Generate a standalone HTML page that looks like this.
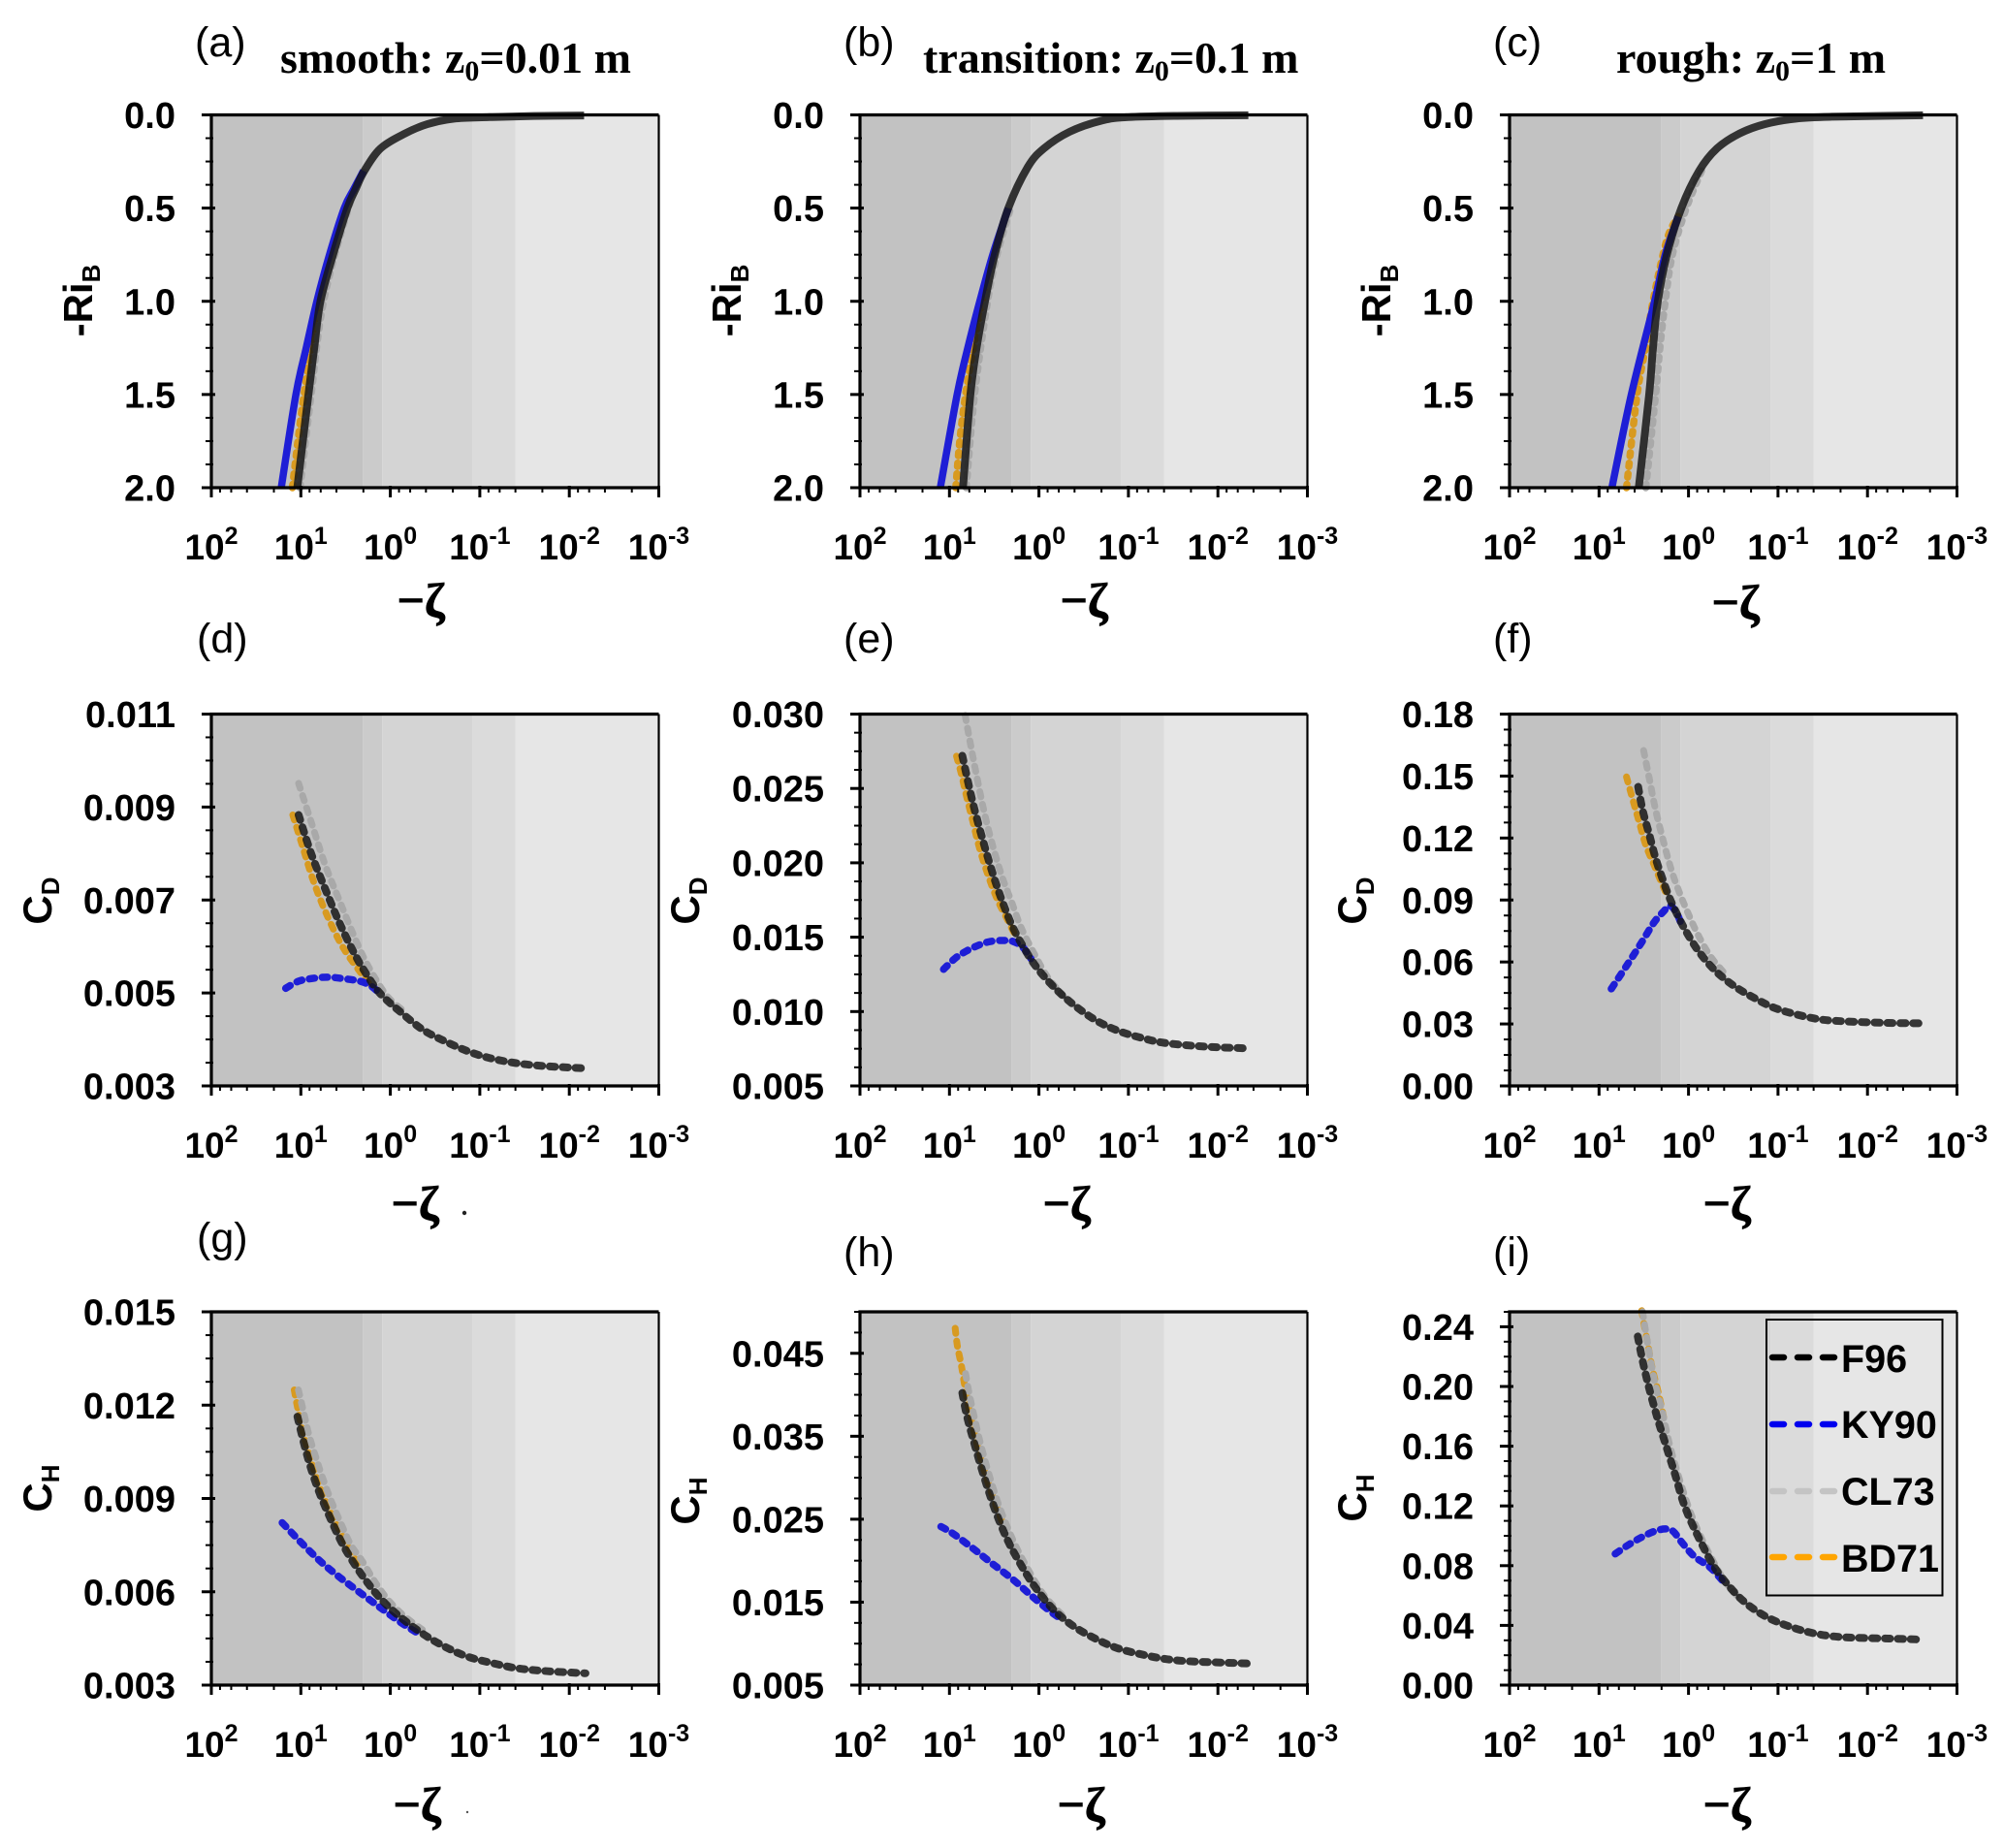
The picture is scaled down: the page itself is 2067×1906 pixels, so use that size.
<!DOCTYPE html>
<html lang="en">
<head>
<meta charset="utf-8">
<title>Drag and heat transfer coefficients versus stability</title>
<style>
html,body{margin:0;padding:0;background:#fff;}
svg{display:block;}
text{fill:#000;}
.sans{font-family:"Liberation Sans",sans-serif;}
.tick{font-family:"Liberation Sans",sans-serif;font-weight:bold;font-size:38px;}
.xt{font-family:"Liberation Sans",sans-serif;font-weight:bold;font-size:37px;}
.plabel{font-family:"Liberation Sans",sans-serif;font-size:43px;}
.title{font-family:"Liberation Serif",serif;font-weight:bold;font-size:46px;}
.ytitle{font-family:"Liberation Sans",sans-serif;font-weight:bold;font-size:42px;}
.xtitle{font-family:"Liberation Serif",serif;font-weight:bold;font-size:50px;stroke:#000;stroke-width:0.8px;}
.leg{font-family:"Liberation Sans",sans-serif;font-weight:bold;font-size:39.5px;}
</style>
</head>
<body>
<svg id="fig" xmlns="http://www.w3.org/2000/svg" width="2067" height="1906" viewBox="0 0 2067 1906">
  <rect x="0" y="0" width="2067" height="1906" fill="#fff"/>
  <g id="panels"></g>

  <g>
    <text class="plabel" x="201" y="58">(a)</text>
    <text class="plabel" x="870" y="58">(b)</text>
    <text class="plabel" x="1540" y="58">(c)</text>
    <text class="plabel" x="203" y="673">(d)</text>
    <text class="plabel" x="870" y="673">(e)</text>
    <text class="plabel" x="1540" y="673">(f)</text>
    <text class="plabel" x="203" y="1291">(g)</text>
    <text class="plabel" x="870" y="1306">(h)</text>
    <text class="plabel" x="1540" y="1306">(i)</text>
  </g>

  <g>
    <text class="title" x="289" y="75">smooth: z<tspan font-size="30" dy="8">0</tspan><tspan dy="-8">=0.01 m</tspan></text>
    <text class="title" x="952" y="75">transition: z<tspan font-size="30" dy="8">0</tspan><tspan dy="-8">=0.1 m</tspan></text>
    <text class="title" x="1667" y="75">rough: z<tspan font-size="30" dy="8">0</tspan><tspan dy="-8">=1 m</tspan></text>
  </g>

  <g>
    <text class="ytitle" transform="translate(95,310) rotate(-90)" text-anchor="middle">-Ri<tspan font-size="26" dy="8">B</tspan></text>
    <text class="ytitle" transform="translate(764,310) rotate(-90)" text-anchor="middle">-Ri<tspan font-size="26" dy="8">B</tspan></text>
    <text class="ytitle" transform="translate(1434,310) rotate(-90)" text-anchor="middle">-Ri<tspan font-size="26" dy="8">B</tspan></text>
    <text class="ytitle" transform="translate(53,929) rotate(-90)" text-anchor="middle">C<tspan font-size="26" dy="8">D</tspan></text>
    <text class="ytitle" transform="translate(721,929) rotate(-90)" text-anchor="middle">C<tspan font-size="26" dy="8">D</tspan></text>
    <text class="ytitle" transform="translate(1409,929) rotate(-90)" text-anchor="middle">C<tspan font-size="26" dy="8">D</tspan></text>
    <text class="ytitle" transform="translate(53,1535) rotate(-90)" text-anchor="middle">C<tspan font-size="26" dy="8">H</tspan></text>
    <text class="ytitle" transform="translate(721,1548) rotate(-90)" text-anchor="middle">C<tspan font-size="26" dy="8">H</tspan></text>
    <text class="ytitle" transform="translate(1409,1545) rotate(-90)" text-anchor="middle">C<tspan font-size="26" dy="8">H</tspan></text>
  </g>

  <g>
    <text class="xtitle" x="434" y="636" text-anchor="middle">−ζ</text>
    <text class="xtitle" x="1118" y="636" text-anchor="middle">−ζ</text>
    <text class="xtitle" x="1790" y="638" text-anchor="middle">−ζ</text>
    <text class="xtitle" x="428" y="1258" text-anchor="middle">−ζ</text>
    <text class="xtitle" x="1100" y="1258" text-anchor="middle">−ζ</text>
    <text class="xtitle" x="1781" y="1258" text-anchor="middle">−ζ</text>
    <text class="xtitle" x="430" y="1878" text-anchor="middle">−ζ</text>
    <text class="xtitle" x="1115" y="1878" text-anchor="middle">−ζ</text>
    <text class="xtitle" x="1781" y="1878" text-anchor="middle">−ζ</text>
    <circle cx="479" cy="1251" r="2.2" fill="#222"/>
    <circle cx="482" cy="1869" r="1.2" fill="#555"/>
  </g>

  <g>
    <rect x="1822" y="1361" width="181.5" height="284.5" fill="none" stroke="#000" stroke-width="2"/>
    <g>
      <line x1="1828" x2="1892" y1="1400" y2="1400" stroke="#000" stroke-width="6.5" stroke-linecap="round" stroke-dasharray="12 14"/>
      <text class="leg" x="1899" y="1415">F96</text>
    </g>
    <g>
      <line x1="1828" x2="1892" y1="1469" y2="1469" stroke="#0000ee" stroke-width="6.5" stroke-linecap="round" stroke-dasharray="12 14"/>
      <text class="leg" x="1899" y="1483">KY90</text>
    </g>
    <g>
      <line x1="1828" x2="1892" y1="1538" y2="1538" stroke="#c4c4c4" stroke-width="6.5" stroke-linecap="round" stroke-dasharray="12 14"/>
      <text class="leg" x="1899" y="1552">CL73</text>
    </g>
    <g>
      <line x1="1828" x2="1892" y1="1606" y2="1606" stroke="#ffa500" stroke-width="6.5" stroke-linecap="round" stroke-dasharray="12 14"/>
      <text class="leg" x="1899" y="1621">BD71</text>
    </g>
  </g>
</svg>

<script>
/* x values are log10(-zeta), y values are the quantity on the panel's y axis */
const xDecades = [2, 1, 0, -1, -2, -3];
const xMinorMantissas = [2, 4, 6, 8];
const stabilityBandEdges = [0.306, 0.09, -0.915, -1.4];

const yTicksRi = [0, 0.5, 1, 1.5, 2];
const yLabelsRi = ['0.0', '0.5', '1.0', '1.5', '2.0'];
const yTicksD = [0.003, 0.005, 0.007, 0.009, 0.011];
const yLabelsD = ['0.003', '0.005', '0.007', '0.009', '0.011'];
const yTicksE = [0.005, 0.01, 0.015, 0.02, 0.025, 0.03];
const yLabelsE = ['0.005', '0.010', '0.015', '0.020', '0.025', '0.030'];
const yTicksF = [0, 0.03, 0.06, 0.09, 0.12, 0.15, 0.18];
const yLabelsF = ['0.00', '0.03', '0.06', '0.09', '0.12', '0.15', '0.18'];
const yTicksG = [0.003, 0.006, 0.009, 0.012, 0.015];
const yLabelsG = ['0.003', '0.006', '0.009', '0.012', '0.015'];
const yTicksH = [0.005, 0.015, 0.025, 0.035, 0.045];
const yLabelsH = ['0.005', '0.015', '0.025', '0.035', '0.045'];
const yTicksI = [0, 0.04, 0.08, 0.12, 0.16, 0.2, 0.24];
const yLabelsI = ['0.00', '0.04', '0.08', '0.12', '0.16', '0.20', '0.24'];

/* panel a */
const aF96X = [1.04, 0.915, 0.85, 0.781, 0.64, 0.48, 0.39, 0.29, 0.109, -0.164, -0.413, -0.711, -1.109, -1.6, -2.165];
const aF96Y = [2, 1.5, 1.25, 1, 0.75, 0.5, 0.4, 0.3, 0.18, 0.1, 0.05, 0.02, 0.012, 0.006, 0.003];
const aKY90X = [1.219, 1.055, 0.94, 0.821, 0.68, 0.515, 0.41, 0.3];
const aKY90Y = [2, 1.5, 1.25, 1, 0.75, 0.5, 0.4, 0.3];
const aCL73X = [1.01, 0.885, 0.746, 0.468, 0.29];
const aCL73Y = [2, 1.5, 1, 0.5, 0.3];
const aBD71X = [1.095, 0.965, 0.791, 0.647, 0.493];
const aBD71Y = [2, 1.5, 1, 0.75, 0.5];

/* panel b */
const bF96X = [0.849, 0.766, 0.697, 0.603, 0.494, 0.342, 0.125, -0.056, -0.345, -0.707, -0.997, -1.54, -2.34];
const bF96Y = [2, 1.5, 1.25, 1, 0.75, 0.5, 0.28, 0.18, 0.09, 0.03, 0.012, 0.005, 0.002];
const bKY90X = [1.102, 0.914, 0.795, 0.661, 0.516, 0.342];
const bKY90Y = [2, 1.5, 1.25, 1, 0.75, 0.5];
const bCL73X = [0.813, 0.719, 0.574, 0.469, 0.317];
const bCL73Y = [2, 1.5, 1, 0.75, 0.5];
const bBD71X = [0.929, 0.885, 0.82, 0.733, 0.632, 0.502, 0.342];
const bBD71Y = [2, 1.75, 1.5, 1.25, 1, 0.75, 0.5];

/* panel c */
const cF96X = [0.556, 0.44, 0.397, 0.343, 0.242, 0.08, -0.119, -0.318, -0.57, -0.85, -1.2, -1.6, -2.62];
const cF96Y = [2, 1.5, 1.25, 1, 0.75, 0.5, 0.3, 0.18, 0.1, 0.05, 0.02, 0.01, 0.002];
const cKY90X = [0.856, 0.639, 0.379, 0.26, 0.116];
const cKY90Y = [2, 1.5, 1, 0.75, 0.545];
const cCL73X = [0.477, 0.368, 0.32, 0.26, 0.18, 0.025, -0.173];
const cCL73Y = [2, 1.5, 1.25, 1, 0.75, 0.5, 0.27];
const cBD71X = [0.693, 0.574, 0.477, 0.397, 0.242, 0.116];
const cBD71Y = [2, 1.5, 1.24, 1, 0.67, 0.545];

/* panel d */
const dF96X = [1.025, 0.881, 0.707, 0.557, 0.383, 0.209, 0.085, -0.114, -0.363, -0.612, -0.861, -1.109, -1.408, -1.706, -2.154];
const dF96Y = [0.00883, 0.00798, 0.00714, 0.00646, 0.00578, 0.00523, 0.00493, 0.00459, 0.00421, 0.00396, 0.00375, 0.0036, 0.00349, 0.00343, 0.00338];
const dKY90X = [1.169, 1.03, 0.881, 0.707, 0.532, 0.333, 0.209, 0.109];
const dKY90Y = [0.0051, 0.00525, 0.00531, 0.00534, 0.00531, 0.00525, 0.00514, 0.00497];
const dCL73X = [1.025, 0.881, 0.731, 0.582, 0.383, 0.234, 0.035, -0.164];
const dCL73Y = [0.00951, 0.00866, 0.00777, 0.00705, 0.00612, 0.00553, 0.00493, 0.00459];
const dBD71X = [1.09, 0.98, 0.856, 0.707, 0.532, 0.333, 0.234];
const dBD71Y = [0.00883, 0.00815, 0.00739, 0.00667, 0.00599, 0.00544, 0.00519];

/* panel e */
const eF96X = [0.856, 0.733, 0.578, 0.451, 0.306, 0.161, 0.009, -0.193, -0.4, -0.635, -0.888, -1.178, -1.395, -1.72, -2.01, -2.227, -2.34];
const eF96Y = [0.0272, 0.0239, 0.0205, 0.0181, 0.01585, 0.01421, 0.01284, 0.01149, 0.0104, 0.00942, 0.0087, 0.00818, 0.0079, 0.0077, 0.00759, 0.00755, 0.0075];
const eKY90X = [1.066, 0.929, 0.813, 0.686, 0.56, 0.415, 0.288, 0.18, 0.09];
const eKY90Y = [0.01284, 0.01362, 0.01406, 0.01443, 0.01469, 0.01478, 0.01471, 0.01432, 0.01356];
const eCL73X = [0.824, 0.777, 0.704, 0.614, 0.523, 0.415, 0.306, 0.198, 0.053, -0.092, -0.273];
const eCL73Y = [0.0299, 0.02837, 0.02608, 0.02347, 0.02129, 0.01911, 0.01737, 0.01563, 0.01389, 0.01236, 0.01105];
const eBD71X = [0.921, 0.867, 0.813, 0.74, 0.668, 0.578, 0.469, 0.36, 0.252];
const eBD71Y = [0.02717, 0.02597, 0.02456, 0.02281, 0.02107, 0.01933, 0.01759, 0.01628, 0.01497];

/* panel f */
const fF96X = [0.563, 0.513, 0.44, 0.368, 0.296, 0.224, 0.152, 0.043, -0.101, -0.282, -0.498, -0.751, -1.004, -1.401, -1.726, -2.231, -2.62];
const fF96Y = [0.1448, 0.1336, 0.1219, 0.1102, 0.1009, 0.0923, 0.0853, 0.076, 0.0659, 0.0565, 0.0487, 0.0422, 0.0371, 0.0327, 0.0313, 0.0305, 0.0303];
const fKY90X = [0.863, 0.693, 0.531, 0.386, 0.278, 0.206, 0.134, 0.08];
const fKY90Y = [0.047, 0.0581, 0.069, 0.0791, 0.0845, 0.0872, 0.0838, 0.0783];
const fCL73X = [0.502, 0.44, 0.368, 0.278, 0.188, 0.097, 0.007, -0.101, -0.245, -0.426];
const fCL73Y = [0.1624, 0.1492, 0.1336, 0.118, 0.104, 0.0931, 0.0838, 0.0736, 0.0627, 0.0534];
const fBD71X = [0.693, 0.621, 0.549, 0.477, 0.386, 0.296, 0.224];
const fBD71Y = [0.1496, 0.1383, 0.1274, 0.1165, 0.1071, 0.0978, 0.0908];

/* panel g */
const gF96X = [1.038, 0.958, 0.875, 0.785, 0.676, 0.55, 0.423, 0.26, 0.08, -0.119, -0.373, -0.626, -0.879, -1.168, -1.421, -1.747, -2.181];
const gF96Y = [0.01163, 0.01069, 0.00986, 0.00913, 0.0084, 0.00762, 0.00699, 0.00631, 0.00569, 0.00517, 0.00463, 0.00421, 0.0039, 0.00369, 0.00354, 0.00345, 0.00338];
const gKY90X = [1.208, 1.002, 0.785, 0.568, 0.351, 0.116, -0.119, -0.3];
const gKY90Y = [0.00822, 0.0076, 0.00699, 0.00647, 0.006, 0.0055, 0.00501, 0.00468];
const gCL73X = [1.027, 0.966, 0.911, 0.839, 0.767, 0.676, 0.568, 0.441, 0.315, 0.17, 0.025, -0.155, -0.373];
const gCL73Y = [0.01249, 0.01174, 0.01106, 0.01038, 0.00975, 0.00903, 0.0083, 0.00751, 0.00699, 0.00631, 0.00574, 0.00522, 0.00475];
const gBD71X = [1.074, 1.038, 0.984, 0.893, 0.785, 0.676, 0.532, 0.351];
const gBD71Y = [0.01249, 0.01194, 0.01121, 0.01028, 0.00934, 0.00861, 0.00777, 0.00684];

/* panel h */
const hF96X = [0.856, 0.806, 0.733, 0.65, 0.56, 0.451, 0.324, 0.161, 0.017, -0.164, -0.381, -0.635, -0.888, -1.178, -1.431, -1.72, -2.227, -2.34];
const hF96Y = [0.04022, 0.03749, 0.03456, 0.03144, 0.02832, 0.02501, 0.02189, 0.01877, 0.01643, 0.01409, 0.01214, 0.01058, 0.00941, 0.00863, 0.00812, 0.00785, 0.00765, 0.0076];
const hKY90X = [1.095, 0.958, 0.74, 0.523, 0.288, 0.071, -0.128, -0.25];
const hKY90Y = [0.02411, 0.02325, 0.0215, 0.01966, 0.01771, 0.01565, 0.01389, 0.01295];
const hCL73X = [0.82, 0.777, 0.722, 0.65, 0.56, 0.451, 0.306, 0.143, -0.056, -0.273];
const hCL73Y = [0.04256, 0.04002, 0.03729, 0.03398, 0.03047, 0.02676, 0.02286, 0.01935, 0.01584, 0.01331];
const hBD71X = [0.936, 0.911, 0.867, 0.831, 0.777, 0.686, 0.56, 0.415];
const hBD71Y = [0.04802, 0.04587, 0.04353, 0.04119, 0.03807, 0.03378, 0.0291, 0.02481];

/* panel i */
const iF96X = [0.567, 0.513, 0.44, 0.35, 0.26, 0.152, 0.043, -0.101, -0.282, -0.462, -0.643, -0.859, -1.112, -1.401, -1.726, -2.231, -2.62];
const iF96Y = [0.2335, 0.2172, 0.1988, 0.1793, 0.162, 0.1414, 0.1198, 0.1003, 0.0797, 0.0656, 0.0548, 0.0461, 0.0396, 0.0347, 0.0321, 0.0312, 0.0305];
const iKY90X = [0.819, 0.675, 0.531, 0.386, 0.26, 0.17, 0.08, -0.065, -0.246, -0.426];
const iKY90Y = [0.0879, 0.0938, 0.0988, 0.1029, 0.1046, 0.1029, 0.096, 0.0862, 0.0786, 0.0667];
const iCL73X = [0.513, 0.458, 0.386, 0.296, 0.206, 0.097, -0.029, -0.191, -0.39, -0.57];
const iCL73Y = [0.25, 0.2292, 0.2053, 0.1837, 0.1598, 0.1371, 0.1144, 0.0927, 0.071, 0.058];
const iBD71X = [0.523, 0.495, 0.458, 0.404, 0.332, 0.278];
const iBD71Y = [0.2508, 0.241, 0.2292, 0.2118, 0.1945, 0.1793];

const panelDefs = [
  {id:'a', col:0, row:0, yMin:0, yMax:2, inv:true, yMinorStep:0.125, ticks:yTicksRi, labels:yLabelsRi,
   f96:[aF96X,aF96Y], ky90:[aKY90X,aKY90Y], cl73:[aCL73X,aCL73Y], bd71:[aBD71X,aBD71Y]},
  {id:'b', col:1, row:0, yMin:0, yMax:2, inv:true, yMinorStep:0.125, ticks:yTicksRi, labels:yLabelsRi,
   f96:[bF96X,bF96Y], ky90:[bKY90X,bKY90Y], cl73:[bCL73X,bCL73Y], bd71:[bBD71X,bBD71Y]},
  {id:'c', col:2, row:0, yMin:0, yMax:2, inv:true, yMinorStep:0.125, ticks:yTicksRi, labels:yLabelsRi,
   f96:[cF96X,cF96Y], ky90:[cKY90X,cKY90Y], cl73:[cCL73X,cCL73Y], bd71:[cBD71X,cBD71Y]},
  {id:'d', col:0, row:1, yMin:0.003, yMax:0.011, inv:false, yMinorStep:0.0005, ticks:yTicksD, labels:yLabelsD,
   f96:[dF96X,dF96Y], ky90:[dKY90X,dKY90Y], cl73:[dCL73X,dCL73Y], bd71:[dBD71X,dBD71Y]},
  {id:'e', col:1, row:1, yMin:0.005, yMax:0.03, inv:false, yMinorStep:0.00125, ticks:yTicksE, labels:yLabelsE,
   f96:[eF96X,eF96Y], ky90:[eKY90X,eKY90Y], cl73:[eCL73X,eCL73Y], bd71:[eBD71X,eBD71Y]},
  {id:'f', col:2, row:1, yMin:0, yMax:0.18, inv:false, yMinorStep:0.0075, ticks:yTicksF, labels:yLabelsF,
   f96:[fF96X,fF96Y], ky90:[fKY90X,fKY90Y], cl73:[fCL73X,fCL73Y], bd71:[fBD71X,fBD71Y]},
  {id:'g', col:0, row:2, yMin:0.003, yMax:0.015, inv:false, yMinorStep:0.00075, ticks:yTicksG, labels:yLabelsG,
   f96:[gF96X,gF96Y], ky90:[gKY90X,gKY90Y], cl73:[gCL73X,gCL73Y], bd71:[gBD71X,gBD71Y]},
  {id:'h', col:1, row:2, yMin:0.005, yMax:0.05, inv:false, yMinorStep:0.0025, ticks:yTicksH, labels:yLabelsH,
   f96:[hF96X,hF96Y], ky90:[hKY90X,hKY90Y], cl73:[hCL73X,hCL73Y], bd71:[hBD71X,hBD71Y]},
  {id:'i', col:2, row:2, yMin:0, yMax:0.25, inv:false, yMinorStep:0.01, ticks:yTicksI, labels:yLabelsI,
   f96:[iF96X,iF96Y], ky90:[iKY90X,iKY90Y], cl73:[iCL73X,iCL73Y], bd71:[iBD71X,iBD71Y]}
];

const NS = 'http://www.w3.org/2000/svg';
const colLeft = [218, 887, 1557];
const rowTop = [118.5, 736.5, 1353];
const rowBottom = [503, 1120, 1738];
const plotWidth = 461.5;
const bandColors = ['#c2c2c2', '#cbcbcb', '#d4d4d4', '#dbdbdb', '#e6e6e6'];

function mk(tag, attrs, parent) {
  const e = document.createElementNS(NS, tag);
  for (const k in attrs) e.setAttribute(k, attrs[k]);
  parent.appendChild(e);
  return e;
}
function smoothPath(pts) {
  let d = 'M' + pts[0][0].toFixed(2) + ' ' + pts[0][1].toFixed(2);
  for (let i = 0; i < pts.length - 1; i++) {
    const p0 = pts[Math.max(0, i - 1)], p1 = pts[i], p2 = pts[i + 1], p3 = pts[Math.min(pts.length - 1, i + 2)];
    const c1x = p1[0] + (p2[0] - p0[0]) / 6, c1y = p1[1] + (p2[1] - p0[1]) / 6;
    const c2x = p2[0] - (p3[0] - p1[0]) / 6, c2y = p2[1] - (p3[1] - p1[1]) / 6;
    d += 'C' + c1x.toFixed(2) + ' ' + c1y.toFixed(2) + ' ' + c2x.toFixed(2) + ' ' + c2y.toFixed(2) + ' ' + p2[0].toFixed(2) + ' ' + p2[1].toFixed(2);
  }
  return d;
}

const root = document.getElementById('panels');

panelDefs.forEach(function (p) {
  const L = colLeft[p.col], T = rowTop[p.row], B = rowBottom[p.row];
  const xAxis = function (logZeta) { return L + (2 - logZeta) / 5 * plotWidth; };
  const yAxis = function (v) {
    const f = (v - p.yMin) / (p.yMax - p.yMin);
    return p.inv ? T + f * (B - T) : B - f * (B - T);
  };

  const g = mk('g', {}, root);
  
  

  /* stability bands */
  const edges = [2].concat(stabilityBandEdges, [-3]);
  for (let i = 0; i < bandColors.length; i++) {
    const x0 = xAxis(edges[i]), x1 = xAxis(edges[i + 1]);
    const band = mk('rect', {x: x0, y: T, width: x1 - x0, height: B - T, fill: bandColors[i]}, g);
    
    
  }

  /* series */
  const firstRow = p.row === 0;
  const styles = [
    {key: 'bd71', color: '#d89a20', w: firstRow ? 7.5 : 7, cap: 'round', dash: firstRow ? '3.5 7.5' : '5.5 7.8', op: 1},
    {key: 'cl73', color: '#a9a9a9', w: firstRow ? 7.5 : 7, cap: 'round', dash: firstRow ? '3.5 7.5' : '5.5 7.8', op: 1},
    {key: 'ky90', color: '#1e1ed6', w: 7.5, cap: firstRow ? 'butt' : 'round', dash: firstRow ? 'none' : '5.5 7.8', op: 1},
    {key: 'f96', color: '#161616', w: firstRow ? 8 : 8, cap: firstRow ? 'butt' : 'round', dash: firstRow ? 'none' : '5.5 7.8', op: 0.85}
  ];
  styles.forEach(function (s) {
    const xs = p[s.key][0], ys = p[s.key][1];
    const pts = xs.map(function (x, i) { return [xAxis(x), yAxis(ys[i])]; });
    const line = mk('path', {d: smoothPath(pts), fill: 'none', stroke: s.color, 'stroke-width': s.w,
      'stroke-linecap': s.cap, 'stroke-dasharray': s.dash, 'stroke-opacity': s.op}, g);
    
    
  });

  /* frame */
  const frame = mk('path', {d: 'M' + (L + plotWidth) + ' ' + B + 'V' + T, fill: 'none', stroke: '#000', 'stroke-width': 2.2}, g);
  
  
  const frame2 = mk('path', {d: 'M' + (L + plotWidth) + ' ' + T + 'H' + L + 'V' + B + 'H' + (L + plotWidth), fill: 'none', stroke: '#000', 'stroke-width': 3.2}, g);
  
  

  /* y axis */
  const yGroup = mk('g', {}, g);
  
  
  const nMinor = Math.round((p.yMax - p.yMin) / p.yMinorStep);
  for (let i = 0; i <= nMinor; i++) {
    const y = yAxis(p.yMin + i * p.yMinorStep);
    const minor = mk('line', {x1: L - 6, x2: L + 2, y1: y, y2: y, stroke: '#000', 'stroke-width': 2}, yGroup);
    
    
  }
  p.ticks.forEach(function (t, i) {
    const y = yAxis(t);
    const major = mk('line', {x1: L - 10, x2: L + 4, y1: y, y2: y, stroke: '#000', 'stroke-width': 3}, yGroup);
    
    
    const label = mk('text', {x: L - 37, y: y + 13.5, 'text-anchor': 'end', 'class': 'tick'}, yGroup);
    label.textContent = p.labels[i];
    
    
  });

  /* x axis */
  const xGroup = mk('g', {}, g);
  
  
  xDecades.forEach(function (dec) {
    const x = xAxis(dec);
    const major = mk('line', {x1: x, x2: x, y1: B - 2, y2: B + 10, stroke: '#000', 'stroke-width': 3}, xGroup);
    
    
    if (dec > -3) {
      xMinorMantissas.forEach(function (m) {
        const xm = xAxis(dec - 1 + Math.log10(m));
        const minor = mk('line', {x1: xm, x2: xm, y1: B - 1, y2: B + 5, stroke: '#000', 'stroke-width': 2}, xGroup);
        
        
      });
    }
    const label = mk('text', {x: x, y: B + 74, 'text-anchor': 'middle', 'class': 'xt'}, xGroup);
    
    
    const base = mk('tspan', {}, label);
    base.textContent = '10';
    const sup = mk('tspan', {dy: -16, 'font-size': 25}, label);
    sup.textContent = String(dec);
  });
});
</script>
</body>
</html>
